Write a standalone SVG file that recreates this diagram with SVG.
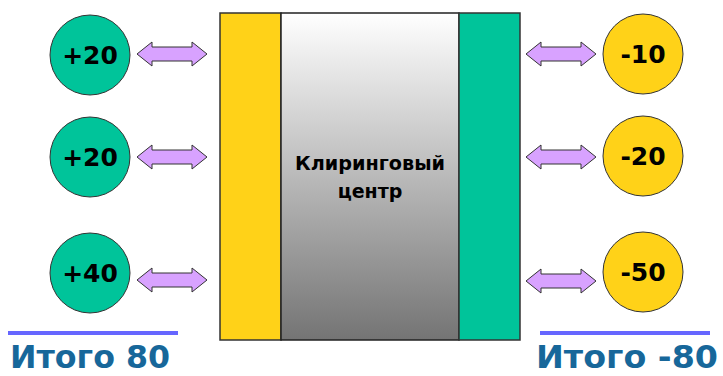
<svg xmlns="http://www.w3.org/2000/svg" width="723" height="376" viewBox="0 0 723 376">
<defs>
<linearGradient id="g" x1="0" y1="0" x2="0" y2="1">
<stop offset="0" stop-color="#ffffff"/>
<stop offset="1" stop-color="#747474"/>
</linearGradient>
<path id="arr" d="M0,0 L15,-12 L15,-7 L55,-7 L55,-12 L70,0 L55,12 L55,7 L15,7 L15,12 Z"/>
</defs>
<style>
.g{fill:#00C49A;stroke:#333;stroke-width:1}
.y{fill:#FFD218;stroke:#333;stroke-width:1}
.n{font-family:"DejaVu Sans","Liberation Sans",sans-serif;font-weight:bold;font-size:25px;fill:#000;text-anchor:middle}
.a{fill:#D8A2FF;stroke:#333;stroke-width:1}
.t{font-family:"DejaVu Sans","Liberation Sans",sans-serif;font-weight:bold;font-size:32px;fill:#17679A}
.c{font-family:"DejaVu Sans","Liberation Sans",sans-serif;font-weight:bold;font-size:19px;fill:#000;text-anchor:middle}
</style>
<rect width="723" height="376" fill="#fff"/>
<g id="center">
<rect x="220" y="13" width="61" height="327" fill="#FFD218" stroke="#333" stroke-width="1.5"/>
<rect x="281" y="13" width="178" height="327" fill="url(#g)" stroke="#222" stroke-width="1.5"/>
<rect x="459" y="13" width="61" height="327" fill="#00C49A" stroke="#333" stroke-width="1.5"/>
<text class="c" x="370" y="170" textLength="150" lengthAdjust="spacingAndGlyphs">Клиринговый</text>
<text class="c" x="370" y="198">центр</text>
</g>
<g id="connectors">
<use href="#arr" class="a" x="137" y="54"/>
<use href="#arr" class="a" x="137" y="157"/>
<use href="#arr" class="a" x="137" y="280"/>
<use href="#arr" class="a" x="526" y="54"/>
<use href="#arr" class="a" x="526" y="157"/>
<use href="#arr" class="a" x="526" y="281"/>
</g>
<g id="l1"><circle class="g" cx="90" cy="55" r="40"/><text class="n" x="90" y="64">+20</text></g>
<g id="l2"><circle class="g" cx="90" cy="157" r="40"/><text class="n" x="90" y="166">+20</text></g>
<g id="l3"><circle class="g" cx="90" cy="273" r="40"/><text class="n" x="90" y="282">+40</text></g>
<g id="r1"><circle class="y" cx="643" cy="54" r="40"/><text class="n" x="643" y="63">-10</text></g>
<g id="r2"><circle class="y" cx="643" cy="156" r="40"/><text class="n" x="643" y="165">-20</text></g>
<g id="r3"><circle class="y" cx="643" cy="272" r="40"/><text class="n" x="643" y="281">-50</text></g>
<g id="totals">
<line x1="8" y1="333" x2="178" y2="333" stroke="#6666FF" stroke-width="4"/>
<line x1="540" y1="333" x2="710" y2="333" stroke="#6666FF" stroke-width="4"/>
<text class="t" x="10" y="368" textLength="160" lengthAdjust="spacingAndGlyphs">Итого 80</text>
<text class="t" x="536" y="368" textLength="182" lengthAdjust="spacingAndGlyphs">Итого -80</text>
</g>
</svg>
